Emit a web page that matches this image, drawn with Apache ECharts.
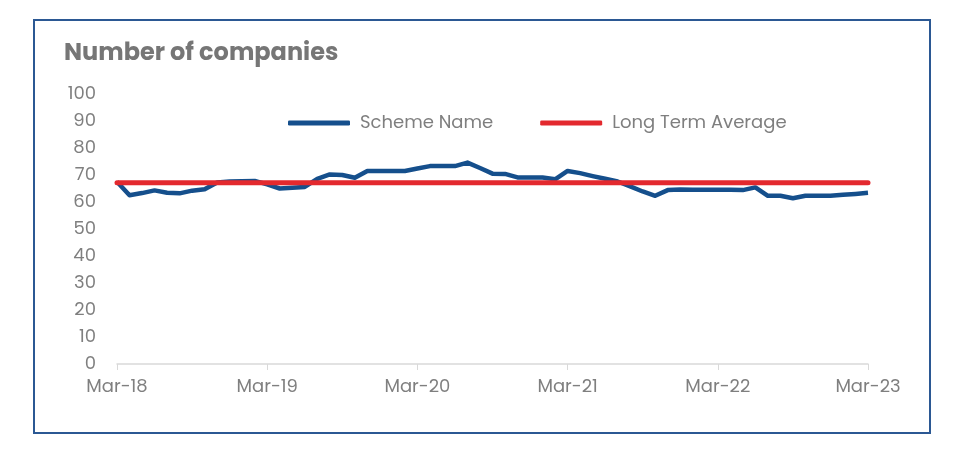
<!DOCTYPE html>
<html>
<head>
<meta charset="utf-8">
<script src="https://cdn.jsdelivr.net/npm/echarts@6/dist/echarts.min.js"></script>
<style>
  html, body { margin: 0; padding: 0; background: #ffffff; }
  #frame { position: absolute; left: 33px; top: 19px; width: 894px; height: 411px; border: 2px solid #2b5893; }
  #chart { position: absolute; left: 0; top: 0; width: 956px; height: 450px; }
</style>
</head>
<body>
<div id="frame"></div>
<div id="chart"></div>
<script>
// ---- data ----
const months = ["Mar-18","Apr-18","May-18","Jun-18","Jul-18","Aug-18","Sep-18","Oct-18","Nov-18","Dec-18","Jan-19","Feb-19",
  "Mar-19","Apr-19","May-19","Jun-19","Jul-19","Aug-19","Sep-19","Oct-19","Nov-19","Dec-19","Jan-20","Feb-20",
  "Mar-20","Apr-20","May-20","Jun-20","Jul-20","Aug-20","Sep-20","Oct-20","Nov-20","Dec-20","Jan-21","Feb-21",
  "Mar-21","Apr-21","May-21","Jun-21","Jul-21","Aug-21","Sep-21","Oct-21","Nov-21","Dec-21","Jan-22","Feb-22",
  "Mar-22","Apr-22","May-22","Jun-22","Jul-22","Aug-22","Sep-22","Oct-22","Nov-22","Dec-22","Jan-23","Feb-23",
  "Mar-23"];
const schemeName = [67.5, 62.5, 63.3, 64.3, 63.4, 63.2, 64.2, 64.7, 67.2, 67.6, 67.7, 67.8,
  66.5, 65.0, 65.3, 65.6, 68.6, 70.2, 70.0, 69.0, 71.5, 71.5, 71.5, 71.5,
  72.4, 73.3, 73.3, 73.3, 74.6, 72.6, 70.5, 70.4, 69.1, 69.1, 69.1, 68.4,
  71.5, 70.7, 69.6, 68.6, 67.6, 65.8, 63.9, 62.3, 64.4, 64.6, 64.5, 64.5,
  64.5, 64.5, 64.4, 65.4, 62.3, 62.3, 61.4, 62.3, 62.3, 62.3, 62.7, 63.0,
  63.4];
const longTermAverage = 67.1;
const yTicks = { min: 0, max: 100, interval: 10 };
const seriesNames = ["Scheme Name", "Long Term Average"];
const titleText = "Number of companies";

const chart = echarts.init(document.getElementById('chart'), null, { renderer: 'canvas' });
const grey = '#7f7f7f';
const font = 'Poppins, Lato, "Open Sans", sans-serif';
chart.setOption({
  animation: false,
  title: {
    text: titleText, left: 59, top: 37,
    textStyle: { fontFamily: font, fontWeight: 'bold', fontSize: 24, color: '#767676' }
  },
  legend: {
    data: seriesNames, left: 283, top: 109, itemGap: 47,
    icon: 'roundRect', itemWidth: 62, itemHeight: 5,
    textStyle: { fontFamily: font, fontSize: 18, color: grey, padding: [0, 0, 0, 5] }
  },
  grid: { left: 117, right: 88, top: 94, bottom: 86, containLabel: false },
  xAxis: {
    type: 'category', data: months, boundaryGap: false,
    axisLine: { lineStyle: { color: '#d9d9d9', width: 1.5 } },
    axisTick: { show: true, interval: 11, length: 6, lineStyle: { color: '#d9d9d9' } },
    axisLabel: { interval: 11, color: grey, fontFamily: font, fontSize: 18, margin: 14 },
    splitLine: { show: false }
  },
  yAxis: {
    type: 'value', min: yTicks.min, max: yTicks.max, interval: yTicks.interval,
    axisLine: { show: false }, axisTick: { show: false }, splitLine: { show: false },
    axisLabel: { color: grey, fontFamily: font, fontSize: 18, margin: 21, padding: [5, 0, 0, 0] }
  },
  series: [
    { name: seriesNames[0], type: 'line', data: schemeName, symbol: 'none', z: 2,
      itemStyle: { color: '#154f8c' },
      lineStyle: { color: '#154f8c', width: 4.5, join: 'round' } },
    { name: seriesNames[1], type: 'line',
      data: [[months[0], longTermAverage], [months[months.length - 1], longTermAverage]],
      symbol: 'none', z: 3,
      itemStyle: { color: '#e3292e' },
      lineStyle: { color: '#e3292e', width: 5, cap: 'round' } }
  ]
});
</script>
</body>
</html>
